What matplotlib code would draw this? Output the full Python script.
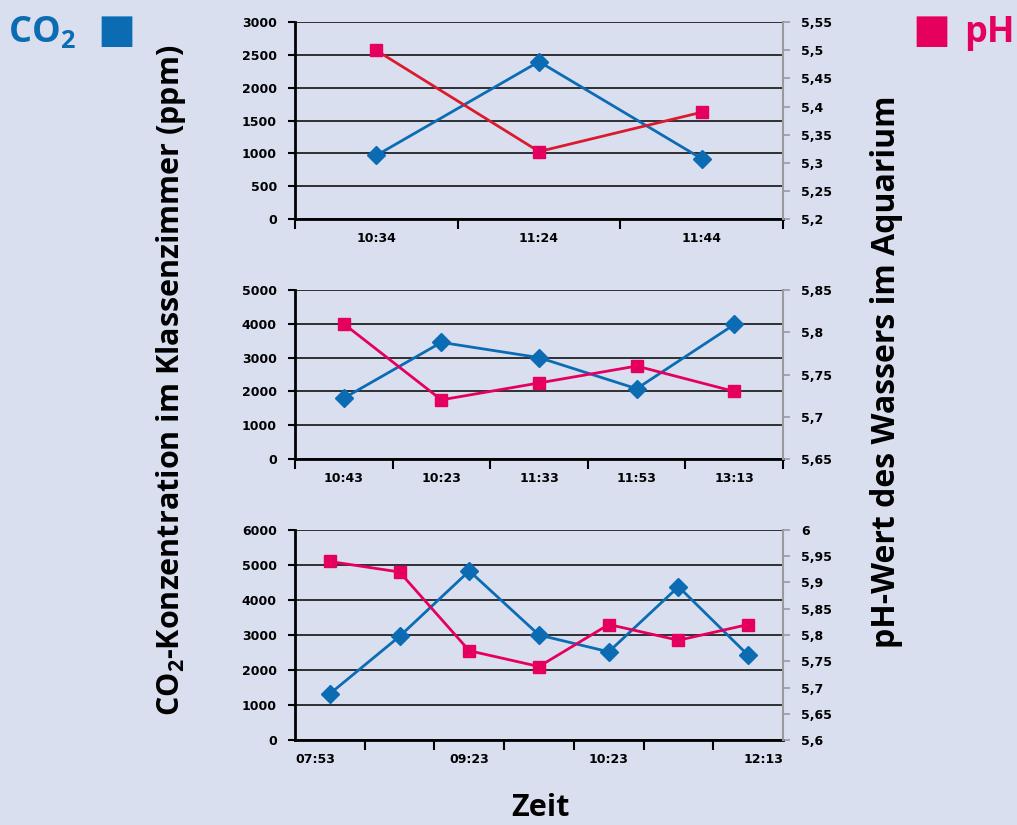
import numpy as np
import matplotlib
matplotlib.use('Agg')
import matplotlib.pyplot as plt

# Messreihen (drei Tage)
zeiten1 = ['10:34', '11:24', '11:44']
co2_1 = [970, 2400, 920]
ph_1 = [5.50, 5.32, 5.39]

zeiten2 = ['10:43', '10:23', '11:33', '11:53', '13:13']
co2_2 = [1800, 3450, 3000, 2080, 3980]
ph_2 = [5.81, 5.72, 5.74, 5.76, 5.73]

# nur jede zweite Zeit ist beschriftet
zeiten3 = ['07:53', '', '09:23', '', '10:23', '', '12:13']
co2_3 = [1320, 2960, 4830, 3000, 2520, 4380, 2420]
ph_3 = [5.94, 5.92, 5.77, 5.74, 5.82, 5.79, 5.82]

# Achsenbereiche
co2_max = [3000, 5000, 6000]
co2_step = [500, 1000, 1000]
ph_lim = [(5.2, 5.55), (5.65, 5.85), (5.6, 6.0)]
ph_step = [0.05, 0.05, 0.05]

bg = '#d9dfef'
blau = '#0b6cb3'
pink = '#e6005e'
rot = '#dc1a2e'

plt.rcParams['font.family'] = ['DejaVu Sans']
plt.rcParams['mathtext.default'] = 'regular'

fig = plt.figure(figsize=(10.17, 8.25), dpi=100, facecolor=bg)

# Positionen der drei Diagramme (links, unten, breite, höhe)
boxes = [
    [0.290, 0.7345, 0.480, 0.2385],
    [0.290, 0.4436, 0.480, 0.2049],
    [0.290, 0.1030, 0.480, 0.2546],
]

daten = [(zeiten1, co2_1, ph_1), (zeiten2, co2_2, ph_2), (zeiten3, co2_3, ph_3)]

for i, (zeiten, co2, ph) in enumerate(daten):
    ax = fig.add_axes(boxes[i])
    ax.set_facecolor('none')
    n = len(zeiten)
    x = np.arange(n)

    ax.set_xlim(-0.5, n - 0.5)
    ax.set_ylim(0, co2_max[i])
    ax.set_yticks(np.arange(0, co2_max[i] + 1, co2_step[i]))
    ax.grid(axis='y', color='black', linewidth=1.1, zorder=0)
    ax.set_axisbelow(True)

    for s in ['top', 'right']:
        ax.spines[s].set_visible(False)
    ax.spines['left'].set_linewidth(2)
    ax.spines['bottom'].set_linewidth(2)

    ax.tick_params(axis='y', direction='out', length=5, width=1.5, labelsize=9, pad=8)
    # Teilstriche zwischen den Kategorien
    ax.set_xticks(np.arange(n + 1) - 0.5, minor=True)
    ax.tick_params(axis='x', which='minor', direction='out', length=7, width=1.5)
    ax.tick_params(axis='x', which='major', length=0, labelsize=9, pad=9)

    if i < 2:
        ax.set_xticks(x)
        ax.set_xticklabels(zeiten)
    else:
        pos = [k for k in range(n) if zeiten[k]]
        pos[0] = -0.5
        pos[-1] = n - 0.5
        ax.set_xticks(pos)
        labels = ax.set_xticklabels([z for z in zeiten if z])
        labels[0].set_ha('left')
        labels[-1].set_ha('right')
    for lab in ax.get_xticklabels() + ax.get_yticklabels():
        lab.set_fontweight('bold')

    ax2 = ax.twinx()
    ax2.set_ylim(*ph_lim[i])
    ticks = np.round(np.arange(ph_lim[i][0], ph_lim[i][1] + 0.001, ph_step[i]), 2)
    ax2.set_yticks(ticks)
    ax2.set_yticklabels([f'{t:g}'.replace('.', ',') for t in ticks], fontweight='bold')
    for s in ['top', 'left', 'bottom']:
        ax2.spines[s].set_visible(False)
    ax2.spines['right'].set_color('#9a9a9a')
    ax2.spines['right'].set_linewidth(1.5)
    ax2.tick_params(axis='y', direction='out', length=5, width=1.2, color='#9a9a9a',
                    labelsize=9, pad=8)

    ax.plot(x, co2, color=blau, linewidth=2, marker='D', markersize=9,
            markerfacecolor=blau, markeredgecolor=blau, zorder=3, clip_on=False)
    ax2.plot(x, ph, color=rot if i == 0 else pink, linewidth=2, marker='s', markersize=9,
             markerfacecolor=pink, markeredgecolor=pink, zorder=3, clip_on=False)

# Legende oben
fig.text(0.008, 0.96, r'CO$_2$', color=blau, fontsize=26, fontweight='bold',
         family='Open Sans', va='center', ha='left')
fig.text(0.096, 0.962, '■', color=blau, fontsize=29, va='center', ha='left')
fig.text(0.897, 0.962, '■', color=pink, fontsize=29, va='center', ha='left')
fig.text(0.948, 0.96, 'pH', color=pink, fontsize=26, fontweight='bold',
         family='Open Sans', va='center', ha='left')

# Achsentitel
fig.text(0.168, 0.539, r'CO$_2$-Konzentration im Klassenzimmer (ppm)', rotation=90,
         fontsize=22, fontweight='bold', family='Open Sans', ha='center', va='center')
fig.text(0.872, 0.549, 'pH-Wert des Wassers im Aquarium', rotation=90,
         fontsize=23, fontweight='bold', family='Open Sans', ha='center', va='center')
fig.text(0.531, 0.02, 'Zeit', fontsize=22, fontweight='bold', family='Open Sans',
         ha='center', va='center')

plt.savefig('out.png', dpi=100, facecolor=bg)
